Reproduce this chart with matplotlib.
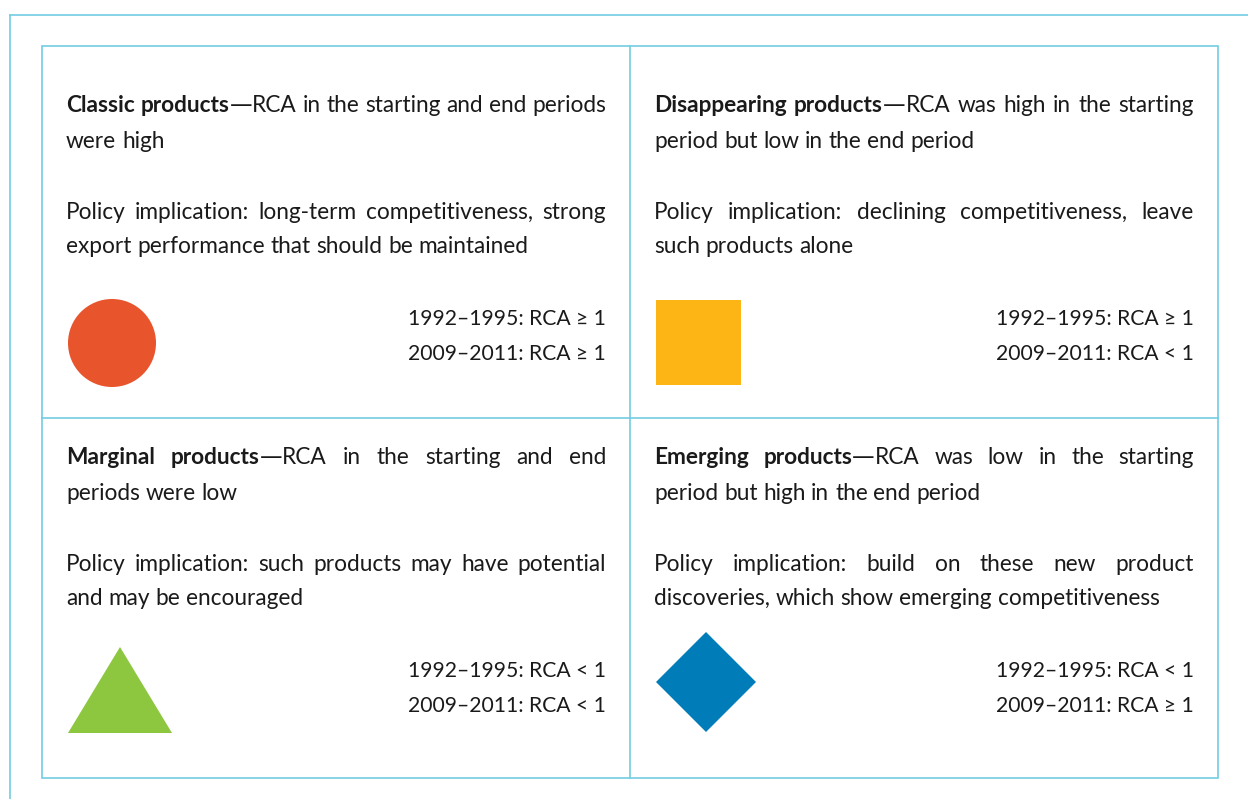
import matplotlib
matplotlib.use("Agg")
import matplotlib.pyplot as plt
from matplotlib.patches import Circle, Rectangle, Polygon

# content
categories = ["Classic products", "Disappearing products", "Marginal products", "Emerging products"]
descriptions = [
    ["RCA in the starting and end periods", "were high"],
    ["RCA was high in the starting", "period but low in the end period"],
    ["RCA in the starting and end", "periods were low"],
    ["RCA was low in the starting", "period but high in the end period"],
]
implications = [
    ["Policy implication: long-term competitiveness, strong", "export performance that should be maintained"],
    ["Policy implication: declining competitiveness, leave", "such products alone"],
    ["Policy implication: such products may have potential", "and may be encouraged"],
    ["Policy implication: build on these new product", "discoveries, which show emerging competitiveness"],
]
periods = ["1992\u20131995", "2009\u20132011"]
rca_start = ["\u2265 1", "\u2265 1", "< 1", "< 1"]
rca_end = ["\u2265 1", "< 1", "< 1", "\u2265 1"]
shapes = ["circle", "square", "triangle", "diamond"]
colors = ["#e8542c", "#fdb515", "#8dc63f", "#007db8"]

LINE = "#72cce3"
FONT = ["Lato", "DejaVu Sans"]
FS = 16.3
FS_PERIOD = 15.2

W, H = 1248, 799
fig = plt.figure(figsize=(W / 100, H / 100), dpi=100)
ax = fig.add_axes([0, 0, 1, 1])
ax.set_xlim(0, W)
ax.set_ylim(H, 0)
ax.axis("off")
renderer = fig.canvas.get_renderer()


def text_width(s, bold=False, family=FONT):
    t = ax.text(0, 0, s, fontsize=FS, family=family, fontweight="bold" if bold else "normal")
    w = t.get_window_extent(renderer).width
    t.remove()
    return w


SPACE = text_width("a a") - 2 * text_width("a")
DASH_FONT = ["DejaVu Sans"]


def part_width(p):
    s, b = p[0], p[1]
    fam = p[2] if len(p) > 2 else FONT
    return text_width(s, b, fam)


def draw_words(words, x0, x1, y, justify):
    # words: list of [(text, bold[, family]), ...]
    widths = [sum(part_width(p) for p in w) for w in words]
    if justify and len(words) > 1:
        gap = (x1 - x0 - sum(widths)) / (len(words) - 1)
    else:
        gap = SPACE
    x = x0
    for w, wd in zip(words, widths):
        xx = x
        for p in w:
            fam = p[2] if len(p) > 2 else FONT
            ax.text(xx, y, p[0], fontsize=FS, family=fam, color="#1a1a1a",
                    fontweight="bold" if p[1] else "normal", va="baseline", ha="left")
            xx += part_width(p)
        x += wd + gap


def plain_words(line):
    return [[(w, False)] for w in line.split()]


# frames
ax.plot([9, W], [15, 15], color=LINE, lw=1.2, solid_capstyle="butt")
ax.plot([10, 10], [15, H], color=LINE, lw=1.2, solid_capstyle="butt")
left, right, top, bottom = 42, 1218, 46, 778
midx, midy = 630, 418
ax.add_patch(Rectangle((left, top), right - left, bottom - top, fill=False, ec=LINE, lw=1.2))
ax.plot([midx, midx], [top, bottom], color=LINE, lw=1.2)
ax.plot([left, right], [midy, midy], color=LINE, lw=1.2)

cell_x = [left, midx, left, midx]
row_base = [112, 464]
for i in range(4):
    x0 = cell_x[i] + 24
    x1 = cell_x[i] + 564
    yb = row_base[i // 2]

    head = categories[i].split()
    desc = descriptions[i][0].split()
    words = [[(h, True)] for h in head[:-1]]
    words.append([(head[-1], True), ("\u2014", False, DASH_FONT), (desc[0], False)])
    words += [[(d, False)] for d in desc[1:]]
    draw_words(words, x0, x1, yb, True)
    draw_words(plain_words(descriptions[i][1]), x0, x1, yb + 36, False)

    draw_words(plain_words(implications[i][0]), x0, x1, yb + 107, True)
    draw_words(plain_words(implications[i][1]), x0, x1, yb + 141, False)

    for j, rca in enumerate([rca_start[i], rca_end[i]]):
        ax.text(x1, yb + 213 + 35 * j, f"{periods[j]}: RCA {rca}", fontsize=FS_PERIOD,
                family=FONT, color="#1a1a1a", ha="right", va="baseline")

    c = colors[i]
    cx = cell_x[i]
    if shapes[i] == "circle":
        ax.add_patch(Circle((cx + 70, yb + 231), 44, color=c, lw=0))
    elif shapes[i] == "square":
        ax.add_patch(Rectangle((cx + 26, yb + 188), 85, 85, color=c, lw=0))
    elif shapes[i] == "triangle":
        ax.add_patch(Polygon([(cx + 26, yb + 269), (cx + 130, yb + 269), (cx + 78, yb + 183)],
                             closed=True, color=c, lw=0))
    else:
        ccx, ccy, r = cx + 76, yb + 218, 50
        ax.add_patch(Polygon([(ccx - r, ccy), (ccx, ccy - r), (ccx + r, ccy), (ccx, ccy + r)],
                             closed=True, color=c, lw=0))

fig.savefig("out.png", dpi=100, facecolor="white")
